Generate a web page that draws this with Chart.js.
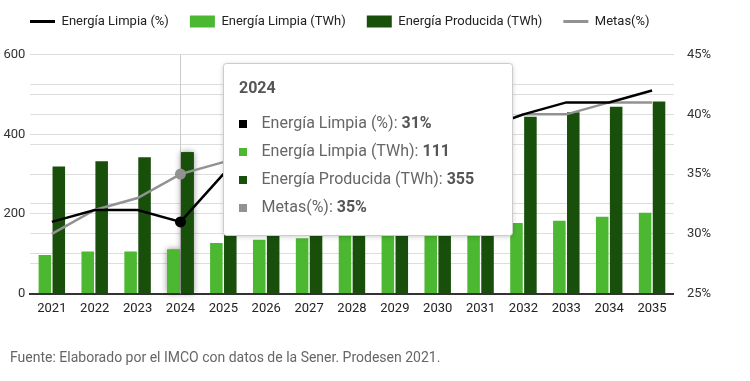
<!DOCTYPE html>
<html lang="es">
<head>
<meta charset="utf-8">
<title>Energía limpia</title>
<script src="https://cdn.jsdelivr.net/npm/chart.js"></script>
<style>
  body { margin: 0; background: #fff; }
  #grafica { display: block; }
</style>
</head>
<body>
<canvas id="grafica" width="750" height="381"></canvas>
<script>
// Datos (Prodesen 2021)
const anios = ["2021", "2022", "2023", "2024", "2025", "2026", "2027", "2028",
               "2029", "2030", "2031", "2032", "2033", "2034", "2035"];
const limpiaPct = [31, 32, 32, 31, 35, 36, 36, 37.5, 38, 38, 38.7, 40, 41, 41, 42];
const limpiaTWh = [97, 106, 106, 111, 127, 135, 139, 150, 155, 160, 166, 177, 183, 193, 203];
const producidaTWh = [319, 332, 342, 355, 365, 375, 386, 397, 408, 419, 431, 444, 455, 469, 482];
const metasPct = [30, 32, 33, 35, 36, 36.5, 37, 37.5, 38, 38.5, 38.8, 40, 40, 41, 41];

// etiquetas de los ejes
const ticksIzq = [0, 200, 400, 600];
const ticksDer = [25, 30, 35, 40, 45];

const fuente = "Fuente: Elaborado por el IMCO con datos de la Sener. Prodesen 2021.";
const anioActivo = 3; // 2024, el que tiene el tooltip abierto

const negro = "#000000";
const verdeClaro = "#4cb731";
const verdeOscuro = "#184f0b";
const gris = "#929292";

Chart.defaults.font.family = "Roboto";
Chart.defaults.font.size = 13;
Chart.defaults.color = "#333";

// la leyenda y la nota de fuente no empiezan pegadas al borde
const moverCajas = {
  id: "moverCajas",
  afterLayout(chart) {
    chart.legend.left = 9;
    const nota = chart.boxes.find((b) => b.options && b.options.text === fuente);
    if (nota) nota.left = 10;
  },
};

// línea vertical y sombra de las barras del año activo
const hoverAnio = {
  id: "hoverAnio",
  beforeDatasetsDraw(chart) {
    const { ctx, chartArea, scales } = chart;
    const x = scales.x.getPixelForValue(anioActivo);
    ctx.save();
    ctx.strokeStyle = "#cccccc";
    ctx.lineWidth = 1;
    ctx.beginPath();
    ctx.moveTo(Math.round(x) + 0.5, chartArea.top);
    ctx.lineTo(Math.round(x) + 0.5, chartArea.bottom);
    ctx.stroke();

    [1, 2].forEach((i) => {
      const bar = chart.getDatasetMeta(i).data[anioActivo];
      ctx.shadowColor = "rgba(0,0,0,0.45)";
      ctx.shadowBlur = 6;
      ctx.fillStyle = chart.data.datasets[i].backgroundColor;
      ctx.fillRect(bar.x - bar.width / 2, bar.y, bar.width, bar.base - bar.y);
    });
    ctx.restore();
  },
};

// tooltip fijo dibujado a mano (valores en negrita)
const tooltipFijo = {
  id: "tooltipFijo",
  afterDraw(chart) {
    const { ctx, chartArea, scales } = chart;
    const filas = [
      ["Energía Limpia (%)", limpiaPct[anioActivo] + "%", negro],
      ["Energía Limpia (TWh)", String(limpiaTWh[anioActivo]), verdeClaro],
      ["Energía Producida (TWh)", String(producidaTWh[anioActivo]), verdeOscuro],
      ["Metas(%)", metasPct[anioActivo] + "%", gris],
    ];
    const normal = "16px Roboto";
    const negrita = "bold 16px Roboto";

    ctx.save();
    let ancho = 0;
    filas.forEach((f) => {
      ctx.font = normal;
      let w = ctx.measureText(f[0] + ": ").width;
      ctx.font = negrita;
      w += ctx.measureText(f[1]).width;
      ancho = Math.max(ancho, w);
    });

    const x = Math.round(scales.x.getPixelForValue(anioActivo) + 43) + 0.5;
    const y = Math.round(chartArea.top + 8) + 0.5;
    const w = Math.round(ancho + 38 + 38);
    const h = 172;

    ctx.shadowColor = "rgba(0,0,0,0.22)";
    ctx.shadowBlur = 5;
    ctx.shadowOffsetY = 1;
    ctx.fillStyle = "#fff";
    ctx.beginPath();
    ctx.roundRect(x, y, w, h, 3);
    ctx.fill();
    ctx.shadowColor = "transparent";
    ctx.strokeStyle = "#cccccc";
    ctx.lineWidth = 1;
    ctx.stroke();

    ctx.textBaseline = "middle";
    ctx.font = negrita;
    ctx.fillStyle = "#555";
    ctx.fillText(anios[anioActivo], x + 15.5, y + 25.5);

    filas.forEach((f, i) => {
      const yy = y + 60 + i * 28.3;
      ctx.fillStyle = f[2];
      ctx.fillRect(Math.round(x + 15), Math.round(yy - 4), 8, 8);
      const etiqueta = f[0] + ": ";
      ctx.font = normal;
      ctx.fillStyle = "#666";
      ctx.fillText(etiqueta, x + 38, yy);
      const we = ctx.measureText(etiqueta).width;
      ctx.font = negrita;
      ctx.fillStyle = "#555";
      ctx.fillText(f[1], x + 38 + we, yy);
    });
    ctx.restore();
  },
};

const puntoActivo = (c) => (c.dataIndex === anioActivo ? 5.5 : 0);

const datos = {
  labels: anios,
  datasets: [
    {
      type: "line",
      label: "Energía Limpia (%)",
      data: limpiaPct,
      yAxisID: "y1",
      borderColor: negro,
      backgroundColor: negro,
      borderWidth: 2.5,
      tension: 0,
      pointRadius: puntoActivo,
      pointBorderWidth: 0,
      order: 0,
    },
    {
      type: "bar",
      label: "Energía Limpia (TWh)",
      data: limpiaTWh,
      yAxisID: "y",
      backgroundColor: verdeClaro,
      categoryPercentage: 0.65,
      barPercentage: 0.9,
      order: 1,
    },
    {
      type: "bar",
      label: "Energía Producida (TWh)",
      data: producidaTWh,
      yAxisID: "y",
      backgroundColor: verdeOscuro,
      categoryPercentage: 0.65,
      barPercentage: 0.9,
      order: 1,
    },
    {
      type: "line",
      label: "Metas(%)",
      data: metasPct,
      yAxisID: "y1",
      borderColor: gris,
      backgroundColor: gris,
      borderWidth: 2.5,
      tension: 0,
      pointRadius: puntoActivo,
      pointBorderWidth: 0,
      order: 0,
    },
  ],
};

const config = {
  data: datos,
  plugins: [moverCajas, hoverAnio, tooltipFijo],
  options: {
    responsive: false,
    animation: false,
    events: [],
    layout: { padding: { left: 0, right: 0, top: -6, bottom: 0 } },
    plugins: {
      tooltip: { enabled: false },
      legend: {
        position: "top",
        align: "start",
        labels: {
          color: "#222",
          font: { size: 13 },
          usePointStyle: true,
          pointStyleWidth: 25,
          boxHeight: 12,
          padding: 21,
          generateLabels(chart) {
            return chart.data.datasets.map((ds, i) => ({
              text: ds.label,
              datasetIndex: i,
              pointStyle: ds.type === "line" ? "line" : "rect",
              fillStyle: ds.type === "line" ? ds.borderColor : ds.backgroundColor,
              strokeStyle: ds.type === "line" ? ds.borderColor : ds.backgroundColor,
              lineWidth: ds.type === "line" ? 3 : 0,
              fontColor: "#222",
            }));
          },
        },
      },
      // espacio entre leyenda y gráfica
      title: { display: true, text: "", position: "top", weight: 500, padding: { top: 0, bottom: 1 } },
      subtitle: {
        display: true,
        text: fuente,
        position: "bottom",
        align: "start",
        color: "#666",
        font: { size: 14 },
        padding: { top: 27, bottom: 14 },
      },
    },
    scales: {
      x: {
        grid: { display: false, drawTicks: false },
        border: { color: "#333", width: 2 },
        ticks: { color: "#222", padding: 7 },
      },
      y: {
        position: "left",
        min: ticksIzq[0],
        max: ticksIzq[ticksIzq.length - 1],
        grid: { color: "#dddddd", drawTicks: false },
        border: { display: false },
        afterFit(scale) { scale.width = 30.4; },
        ticks: {
          stepSize: 100,
          padding: 5,
          color: "#333",
          callback: (v) => (ticksIzq.includes(v) ? v : ""),
        },
      },
      y1: {
        position: "right",
        min: ticksDer[0],
        max: ticksDer[ticksDer.length - 1],
        grid: { color: "#dddddd", drawTicks: false },
        border: { display: false },
        afterFit(scale) { scale.width = 76.5; },
        ticks: {
          stepSize: 2.5,
          padding: 13.5,
          color: "#333",
          callback: (v) => (ticksDer.includes(v) ? v + "%" : ""),
        },
      },
    },
  },
};

const ctx = document.getElementById("grafica").getContext("2d");
const grafica = new Chart(ctx, config);
</script>
</body>
</html>
